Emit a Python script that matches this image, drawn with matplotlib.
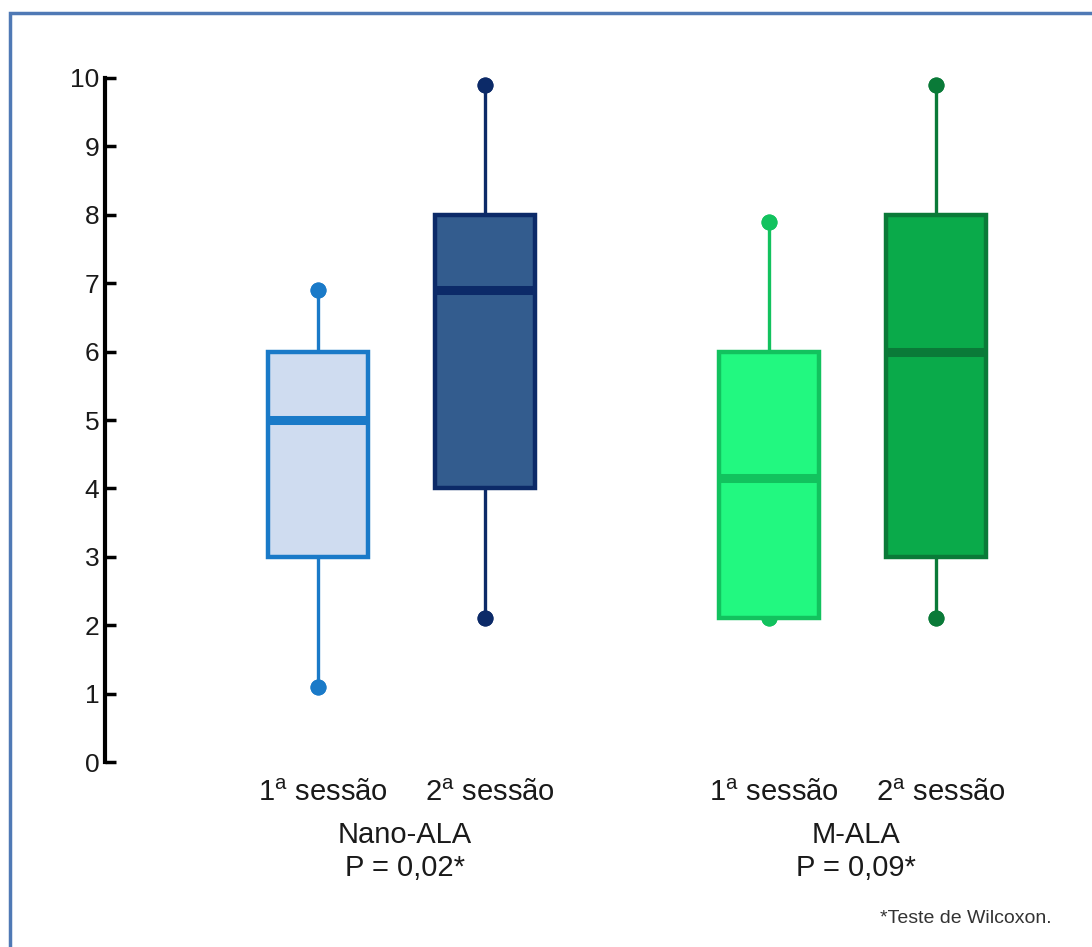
import matplotlib.pyplot as plt
from matplotlib.patches import Rectangle

# Box summaries (min, Q1, median, Q3, max)
labels = ["1$^\\mathregular{a}$ sessão", "2$^\\mathregular{a}$ sessão",
          "1$^\\mathregular{a}$ sessão", "2$^\\mathregular{a}$ sessão"]
whislo = [1.1, 2.1, 2.1, 2.1]
q1 = [3.0, 4.0, 2.1, 3.0]
med = [5.0, 6.9, 4.15, 6.0]
q3 = [6.0, 8.0, 6.0, 8.0]
whishi = [6.9, 9.9, 7.9, 9.9]

groups = ["Nano-ALA", "M-ALA"]
pvalues = ["P = 0,02*", "P = 0,09*"]

fills = ["#cfdcf0", "#335c8e", "#22f880", "#0aaa4a"]
edges = ["#1a7ac8", "#0c2a68", "#12c25e", "#0a7a38"]

positions = [1, 2, 3.7, 4.7]

plt.rcParams["font.family"] = ["Liberation Sans", "DejaVu Sans"]

fig = plt.figure(figsize=(10.92, 9.47), dpi=100)
ax = fig.add_axes([105 / 1092, 185 / 947, 955 / 1092, 684 / 947])

stats = []
for i in range(len(labels)):
    stats.append(dict(whislo=whislo[i], q1=q1[i], med=med[i], q3=q3[i],
                      whishi=whishi[i], fliers=[]))

bp = ax.bxp(stats, positions=positions, widths=0.6, patch_artist=True,
            showfliers=False, capwidths=0,
            boxprops=dict(linewidth=3.2),
            medianprops=dict(linewidth=6.5, solid_capstyle="butt"),
            whiskerprops=dict(linewidth=2.4),
            capprops=dict(marker="o", markersize=10.5, linestyle="none"))

for i in range(len(labels)):
    box = bp["boxes"][i]
    box.set_facecolor(fills[i])
    box.set_edgecolor(edges[i])
    box.set_zorder(3)
    bp["medians"][i].set_color(edges[i])
    bp["medians"][i].set_zorder(4)
    for w in bp["whiskers"][2 * i:2 * i + 2]:
        w.set_color(edges[i])
        w.set_zorder(2)
    for c in bp["caps"][2 * i:2 * i + 2]:
        c.set_color(edges[i])
        c.set_markerfacecolor(edges[i])
        c.set_markeredgecolor(edges[i])
        c.set_zorder(2)
        c.set_clip_on(False)

ax.set_ylim(0, 10)
ax.set_xlim(-0.275, 5.443)
ax.set_yticks(range(0, 11))
ax.tick_params(axis="y", direction="in", length=8, width=2.5, labelsize=19,
               pad=4, labelcolor="#1a1a1a")
ax.set_xticks([])
for s in ["top", "right", "bottom"]:
    ax.spines[s].set_visible(False)
ax.spines["left"].set_linewidth(3)
ax.spines["left"].set_bounds(0, 10)

# session labels under each box
for x, lab in zip(positions, labels):
    ax.text(x + 0.03, -0.45, lab, ha="center", va="center", fontsize=21,
            color="#1a1a1a", clip_on=False)

# group names and p-values
for k in range(len(groups)):
    xc = (positions[2 * k] + positions[2 * k + 1]) / 2
    ax.text(xc + 0.02, -1.07, groups[k], ha="center", va="center", fontsize=21,
            color="#1a1a1a", clip_on=False)
    ax.text(xc + 0.02, -1.55, pvalues[k], ha="center", va="center", fontsize=21,
            color="#1a1a1a", clip_on=False)

fig.text(1052 / 1092, 1 - 918 / 947, "*Teste de Wilcoxon.", ha="right",
         va="center", fontsize=14, color="#333333")

# blue frame around the picture
fig.patches.append(Rectangle((10 / 1092, -0.1), 2, (947 - 12.5) / 947 + 0.1,
                             transform=fig.transFigure, fill=False,
                             edgecolor="#4f79b5", linewidth=2.5))

fig.savefig("out.png", dpi=100)
